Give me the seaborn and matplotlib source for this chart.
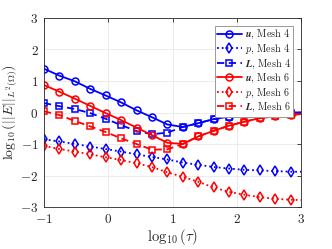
import matplotlib
matplotlib.use("Agg")
import matplotlib.pyplot as plt
import numpy as np
import seaborn as sns

# data (log10 tau on x, log10 error on y)
# markers every 0.24 from -1 to 2.84, line continues to 3
tau = [-1.0, -0.76, -0.52, -0.28, -0.04, 0.20, 0.44, 0.68, 0.92, 1.16,
       1.40, 1.64, 1.88, 2.12, 2.36, 2.60, 2.84, 3.0]

u_mesh4 = [1.39, 1.17, 0.99, 0.75, 0.54, 0.32, 0.07, -0.15, -0.38, -0.46,
           -0.34, -0.21, -0.13, -0.06, -0.03, -0.02, -0.01, 0.0]
p_mesh4 = [-0.85, -0.92, -1.00, -1.08, -1.16, -1.24, -1.33, -1.41, -1.49, -1.59,
           -1.66, -1.73, -1.78, -1.82, -1.84, -1.86, -1.88, -1.88]
L_mesh4 = [0.30, 0.20, 0.11, -0.02, -0.20, -0.40, -0.59, -0.69, -0.64, -0.46,
           -0.34, -0.21, -0.13, -0.06, -0.03, -0.02, -0.01, 0.0]
u_mesh6 = [0.87, 0.66, 0.44, 0.21, -0.02, -0.24, -0.48, -0.72, -0.96, -1.00,
           -0.76, -0.58, -0.42, -0.29, -0.18, -0.12, -0.08, -0.05]
p_mesh6 = [-1.06, -1.16, -1.24, -1.33, -1.42, -1.51, -1.61, -1.73, -1.90, -2.04,
           -2.20, -2.38, -2.52, -2.61, -2.69, -2.74, -2.77, -2.78]
L_mesh6 = [0.04, -0.08, -0.27, -0.44, -0.62, -0.82, -1.00, -1.18, -1.17, -1.00,
           -0.76, -0.58, -0.42, -0.29, -0.18, -0.12, -0.08, -0.05]

sns.set_style("whitegrid")
plt.rcParams['font.family'] = ['cmr10']
plt.rcParams['mathtext.fontset'] = 'cm'
plt.rcParams['axes.unicode_minus'] = False
plt.rcParams['axes.formatter.use_mathtext'] = True

fig = plt.figure(figsize=(3.32, 2.49), dpi=100)
ax = fig.add_axes([44/332, 1-207/249, (301-44)/332, (207-18)/249])

series = [
    (u_mesh4, 'blue', '-', 'o', r'$\mathbfit{u}$, Mesh 4'),
    (p_mesh4, 'blue', ':', 'd', r'$p$, Mesh 4'),
    (L_mesh4, 'blue', (0, (4, 2.5)), 's', r'$\mathbfit{L}$, Mesh 4'),
    (u_mesh6, 'red', '-', 'o', r'$\mathbfit{u}$, Mesh 6'),
    (p_mesh6, 'red', ':', 'd', r'$p$, Mesh 6'),
    (L_mesh6, 'red', (0, (4, 2.5)), 's', r'$\mathbfit{L}$, Mesh 6'),
]
sizes = {'o': 5, 'd': 5, 's': 4.3}
marks = list(range(17))
for vals, col, ls, mk, lab in series:
    sns.lineplot(x=tau, y=vals, ax=ax, color=col, linestyle=ls, marker=mk,
                 markersize=sizes[mk], markerfacecolor='none',
                 markeredgecolor=col, markeredgewidth=1.1, linewidth=1.3,
                 markevery=marks, label=lab, sort=False)

ax.set_xlim(-1, 3)
ax.set_ylim(-3, 3)
ax.set_xticks([-1, 0, 1, 2, 3])
ax.set_yticks([-3, -2, -1, 0, 1, 2, 3])
ax.grid(True, color='#ebebeb', linewidth=0.7)
for s in ax.spines.values():
    s.set_visible(True)
    s.set_color('#262626')
    s.set_linewidth(0.6)
ax.tick_params(direction='in', length=3, width=0.6, top=True, right=True,
               labelsize=9.5, colors='#262626', pad=4)
ax.set_xlabel(r'$\log_{10}(\tau)$', fontsize=10.5, labelpad=1)
ax.set_ylabel(r'$\log_{10}(||E||_{L^2(\Omega)})$', fontsize=10, labelpad=1)

leg = ax.legend(loc='upper right', fontsize=7.3, handlelength=2.4,
                borderaxespad=0.75, labelspacing=0.12, handletextpad=0.3,
                borderpad=0.25, fancybox=False, framealpha=1)
leg.get_frame().set_edgecolor('#999999')
leg.get_frame().set_linewidth(0.7)

fig.savefig('out.png', dpi=100)
